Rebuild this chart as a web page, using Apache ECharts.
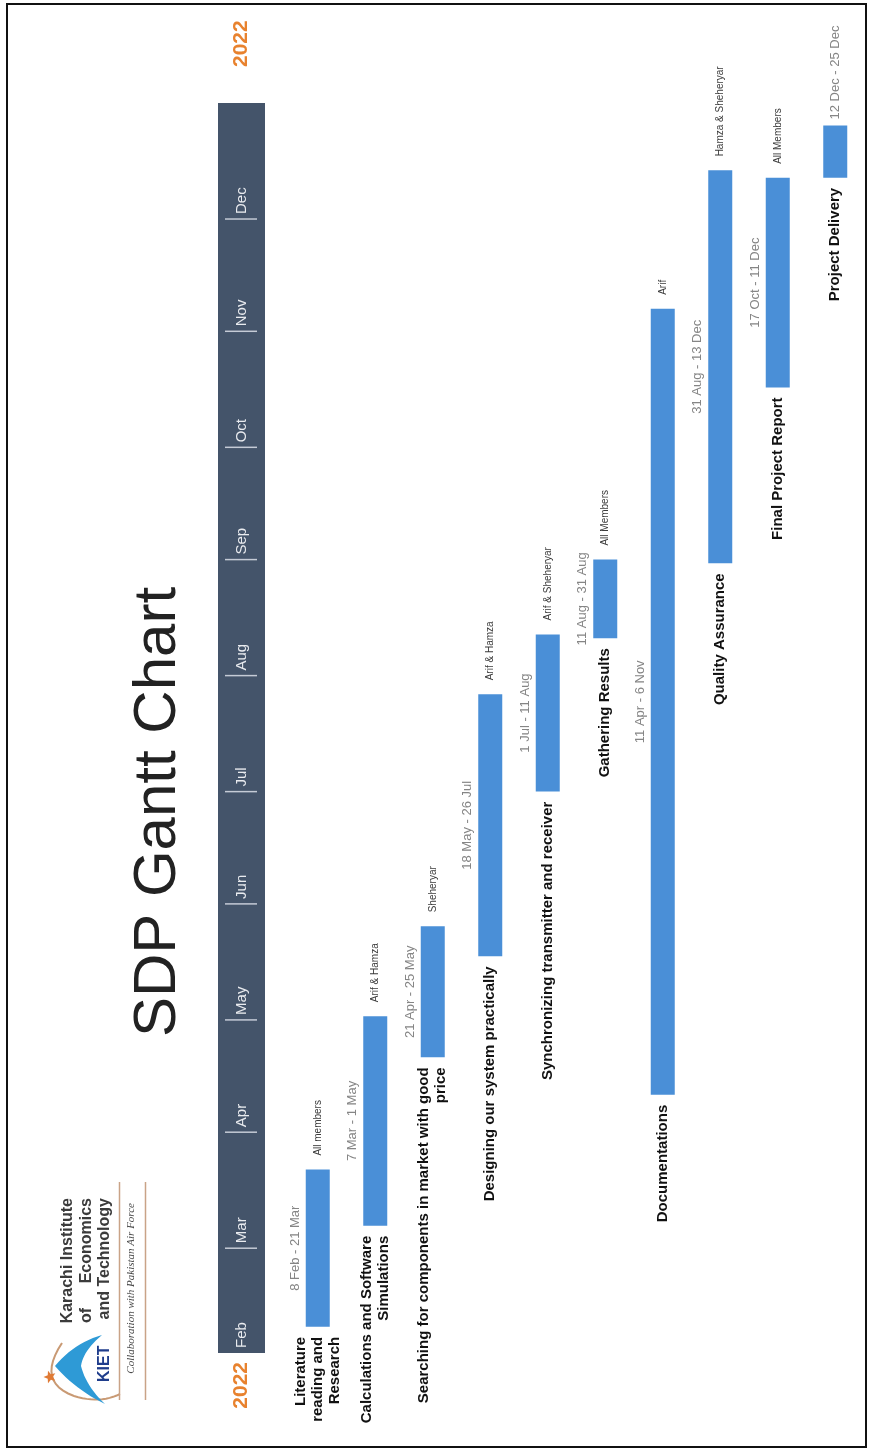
<!DOCTYPE html>
<html>
<head>
<meta charset="utf-8">
<script src="https://cdn.jsdelivr.net/npm/echarts@6/dist/echarts.min.js"></script>
<style>
  html, body { margin: 0; padding: 0; background: #ffffff; }
  #chart { width: 874px; height: 1452px; }
</style>
</head>
<body>
<div id="chart"></div>
<script>
// ---- schedule data ----
const TASKS = [
  'Literature\nreading and\nResearch',
  'Calculations and Software\nSimulations',
  'Searching for components in market with good\nprice',
  'Designing our system practically',
  'Synchronizing transmitter and receiver',
  'Gathering Results',
  'Documentations',
  'Quality Assurance',
  'Final Project Report',
  'Project Delivery'
];
const START_DATES = ['2022-02-08', '2022-03-07', '2022-04-21', '2022-05-18', '2022-07-01',
                     '2022-08-11', '2022-04-11', '2022-08-31', '2022-10-17', '2022-12-12'];
const END_DATES   = ['2022-03-21', '2022-05-01', '2022-05-25', '2022-07-26', '2022-08-11',
                     '2022-08-31', '2022-11-06', '2022-12-13', '2022-12-11', '2022-12-25'];
const DATE_LABELS = ['8 Feb - 21 Mar', '7 Mar - 1 May', '21 Apr - 25 May', '18 May - 26 Jul', '1 Jul - 11 Aug',
                     '11 Aug - 31 Aug', '11 Apr - 6 Nov', '31 Aug - 13 Dec', '17 Oct - 11 Dec', '12 Dec - 25 Dec'];
const RESOURCES   = ['All members', 'Arif & Hamza', 'Sheheryar', 'Arif & Hamza', 'Arif & Sheheryar',
                     'All Members', 'Arif', 'Hamza & Sheheryar', 'All Members', ''];
const MONTHS = ['Feb', 'Mar', 'Apr', 'May', 'Jun', 'Jul', 'Aug', 'Sep', 'Oct', 'Nov', 'Dec'];
const YEAR_LABEL = '2022';
const TITLE = 'SDP Gantt Chart';

// ---- helpers & styling ----
const DAY = 86400000;
const toUTC = s => { const p = s.split('-').map(Number); return Date.UTC(p[0], p[1] - 1, p[2]); };
const T_MIN = Date.UTC(2022, 1, 1);   // 1 Feb 2022
const T_MAX = Date.UTC(2023, 0, 1);   // end of Dec 2022
const R = Math.PI / 2;                // text reads bottom-to-top
const SANS = '"Liberation Sans", Arial, sans-serif';
const BAR_W = 24;
const BAR_COLOR = '#4a8fd7';
const BAND_COLOR = '#44546a';
const YEAR_COLOR = '#e8822e';

function txt(x, y, text, font, fill, align, vAlign, extra) {
  return Object.assign({
    type: 'text', x: x, y: y, rotation: R,
    style: {
      text: text, font: font, fill: fill,
      align: align, textAlign: align,
      verticalAlign: vAlign, textVerticalAlign: vAlign
    }
  }, extra || {});
}

// task bars with their name, date and resource labels
function renderTask(params, api) {
  const i = params.dataIndex;
  const a = api.coord([api.value(0), api.value(1)]);
  const b = api.coord([api.value(0), api.value(2)]);
  const cx = a[0], yStart = a[1], yEnd = b[1];
  const kids = [
    { type: 'rect', shape: { x: cx - BAR_W / 2, y: yEnd, width: BAR_W, height: yStart - yEnd },
      style: { fill: BAR_COLOR } }
  ];
  const name = txt(cx, yStart + 10, TASKS[i], 'bold 15px ' + SANS, '#111111', 'right', 'middle');
  name.style.lineHeight = 17;
  name.style.textLineHeight = 17;
  kids.push(name);
  if (RESOURCES[i]) {
    kids.push(txt(cx - BAR_W / 2 - 4, (yStart + yEnd) / 2, DATE_LABELS[i], '13px ' + SANS, '#858585', 'center', 'bottom'));
    kids.push(txt(cx, yEnd - 14, RESOURCES[i], '10px ' + SANS, '#3a3a3a', 'left', 'middle'));
  } else {
    kids.push(txt(cx, yEnd - 6, DATE_LABELS[i], '13px ' + SANS, '#858585', 'left', 'middle'));
  }
  return { type: 'group', children: kids };
}

// month header band
function renderMonth(params, api) {
  const k = params.dataIndex;
  const cs = params.coordSys;
  const s = api.coord([0.5, api.value(1)]);
  const e = api.coord([0.5, api.value(2)]);
  const cx = cs.x + cs.width / 2;
  const kids = [];
  if (k > 0) {
    kids.push({ type: 'line', shape: { x1: cs.x + 7, y1: s[1], x2: cs.x + cs.width - 8, y2: s[1] },
                style: { stroke: '#c5cbd6', lineWidth: 1.5 } });
  }
  kids.push(txt(cx, s[1] - 5, MONTHS[k], '15px ' + SANS, '#e9ebef', 'left', 'middle'));
  if (k === 0) {
    kids.push(txt(cx, s[1] + 9, YEAR_LABEL, 'bold 21px ' + SANS, YEAR_COLOR, 'right', 'middle'));
  }
  if (k === MONTHS.length - 1) {
    kids.push(txt(cx, e[1] - 36, YEAR_LABEL, 'bold 21px ' + SANS, YEAR_COLOR, 'left', 'middle'));
  }
  return { type: 'group', children: kids };
}

const taskData = TASKS.map((t, i) => [i, toUTC(START_DATES[i]), toUTC(END_DATES[i]) + DAY]);
const monthData = MONTHS.map((m, k) => [0.5, Date.UTC(2022, k + 1, 1), Date.UTC(2022, k + 2, 1)]);

// ---- logo shapes ----
function starPoints(cx, cy, r1, r2) {
  const pts = [];
  for (let j = 0; j < 10; j++) {
    const r = j % 2 ? r2 : r1;
    const ang = -Math.PI + j * Math.PI / 5;
    pts.push([cx + r * Math.cos(ang), cy + r * Math.sin(ang)]);
  }
  return pts;
}
// sample a chain of quadratic curves [p0, c1, p1, c2, p2, ...] into points
function quadChain(p) {
  const out = [p[0]];
  for (let j = 0; j + 2 < p.length; j += 2) {
    const a = p[j], c = p[j + 1], b = p[j + 2];
    for (let t = 1; t <= 12; t++) {
      const u = t / 12, v = 1 - u;
      out.push([v * v * a[0] + 2 * v * u * c[0] + u * u * b[0], v * v * a[1] + 2 * v * u * c[1] + u * u * b[1]]);
    }
  }
  return out;
}
const swoosh = quadChain([[55, 1366], [74, 1343], [102, 1335], [83, 1351], [81, 1366],
                          [86, 1386], [105, 1404], [76, 1390], [55, 1366]]);
const orbit = quadChain([[62, 1343], [36, 1382], [74, 1396], [100, 1404], [120, 1394]]);

const chart = echarts.init(document.getElementById('chart'), null, { renderer: 'canvas' });
chart.setOption({
  animation: false,
  backgroundColor: '#ffffff',
  grid: [
    { left: 289, width: 575, top: 103, bottom: 99 },
    { left: 218, width: 47, top: 103, bottom: 99, show: true, backgroundColor: BAND_COLOR, borderWidth: 0 }
  ],
  xAxis: [
    { type: 'category', gridIndex: 0, data: TASKS, show: false },
    { type: 'value', gridIndex: 1, min: 0, max: 1, show: false }
  ],
  yAxis: [
    { type: 'time', gridIndex: 0, min: T_MIN, max: T_MAX, show: false },
    { type: 'time', gridIndex: 1, min: T_MIN, max: T_MAX, show: false }
  ],
  series: [
    { type: 'custom', xAxisIndex: 1, yAxisIndex: 1, data: monthData, renderItem: renderMonth,
      encode: { x: 0, y: [1, 2] }, clip: false, silent: true },
    { type: 'custom', xAxisIndex: 0, yAxisIndex: 0, data: taskData, renderItem: renderTask,
      encode: { x: 0, y: [1, 2] }, clip: false, silent: true }
  ],
  graphic: [
    // outer frame
    { type: 'rect', shape: { x: 7, y: 4, width: 859, height: 1443 },
      style: { fill: 'none', stroke: '#111111', lineWidth: 2 }, silent: true },
    // title
    txt(158, 812, TITLE, '60px ' + SANS, '#222222', 'center', 'middle'),
    // institute logo
    { type: 'polyline', shape: { points: orbit }, style: { fill: 'none', stroke: '#c99a74', lineWidth: 2 } },
    { type: 'polygon', shape: { points: swoosh }, style: { fill: '#2e9ad6' } },
    { type: 'polygon', shape: { points: starPoints(50, 1377, 6.5, 2.8) }, style: { fill: '#e07a35' } },
    txt(68, 1198, 'Karachi Institute', 'bold 16px ' + SANS, '#3b3b3b', 'right', 'middle'),
    txt(86.5, 1323, 'of', 'bold 16px ' + SANS, '#3b3b3b', 'left', 'middle'),
    txt(86.5, 1198, 'Economics', 'bold 16px ' + SANS, '#3b3b3b', 'right', 'middle'),
    txt(105, 1382, 'KIET', 'bold 16px ' + SANS, '#1f3d8c', 'left', 'middle'),
    txt(105, 1198, 'and Technology', 'bold 16px ' + SANS, '#3b3b3b', 'right', 'middle'),
    txt(131, 1203, 'Collaboration with Pakistan Air Force', 'italic 11px "Liberation Serif", serif', '#4a4a4a', 'right', 'middle'),
    { type: 'line', shape: { x1: 119.5, y1: 1182, x2: 119.5, y2: 1400 }, style: { stroke: '#c9a387', lineWidth: 1.5 } },
    { type: 'line', shape: { x1: 145.5, y1: 1182, x2: 145.5, y2: 1400 }, style: { stroke: '#c9a387', lineWidth: 1.5 } }
  ]
});
</script>
</body>
</html>
